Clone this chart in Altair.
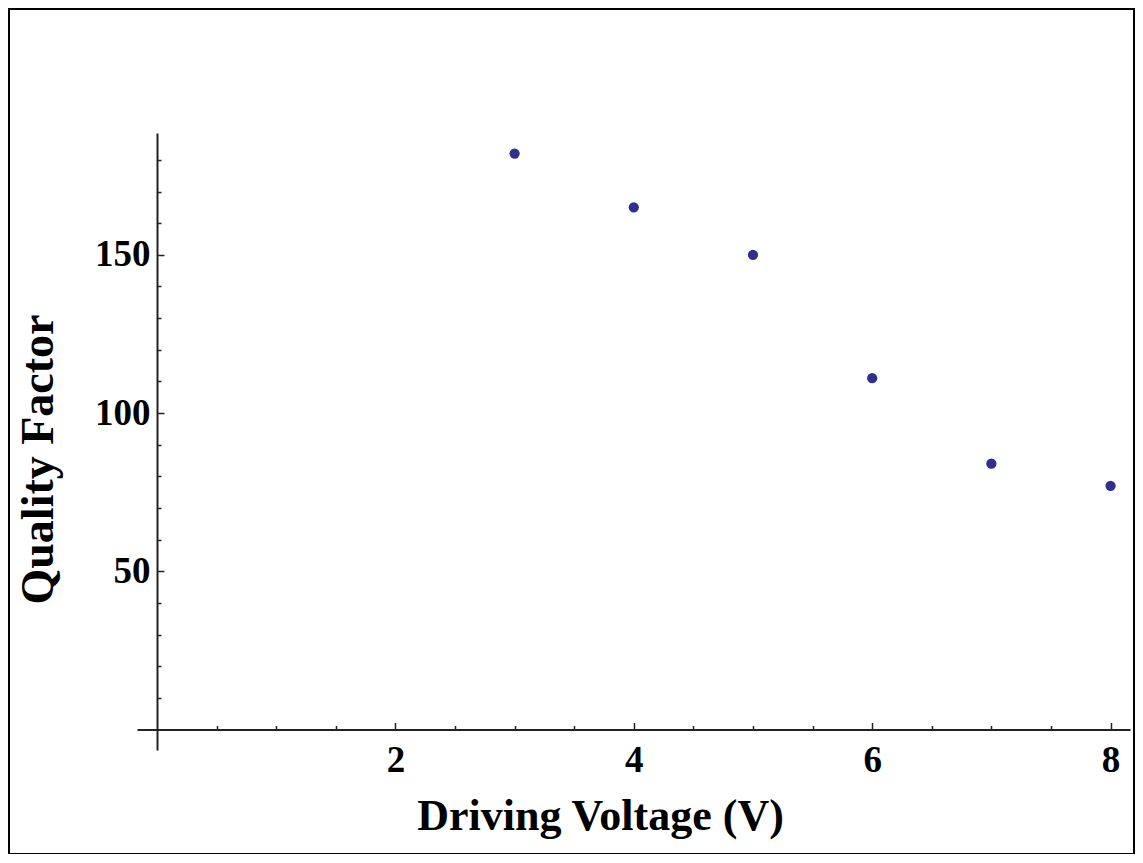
import altair as alt
import pandas as pd

# Data
voltage = [3, 4, 5, 6, 7, 8]
quality = [182, 165, 150, 111, 84, 77]

x_major = [2, 4, 6, 8]
x_minor = [0.5, 1, 1.5, 2.5, 3, 3.5, 4.5, 5, 5.5, 6.5, 7, 7.5]
y_major = [50, 100, 150]
y_minor = [10, 20, 30, 40, 60, 70, 80, 90, 110, 120, 130, 140, 160, 170, 180]

df = pd.DataFrame({"v": voltage, "q": quality})

W, H = 993, 617
X_DOM = [-0.168, 8.163]
Y_DOM = [-6.5, 188.5]
X_AX_OFF = -20.5      # x axis sits at y = 0
Y_AX_OFF = -20        # y axis sits at x = 0
FONT = "Liberation Serif"
AX_COLOR = "#222222"

xs = alt.Scale(domain=X_DOM, nice=False, zero=False)
ys = alt.Scale(domain=Y_DOM, nice=False, zero=False)

points = alt.Chart(df).mark_circle(size=105, color="#30308c", opacity=1).encode(
    x=alt.X("v:Q", scale=xs, axis=alt.Axis(
        orient="bottom", offset=X_AX_OFF, values=x_major, ticks=False, grid=False,
        domain=True, domainColor=AX_COLOR, domainWidth=2,
        labelFont=FONT, labelFontSize=37, labelFontWeight="bold", labelColor="black",
        labelPadding=13, labelFlush=False,
        title="Driving Voltage (V)", titleFont=FONT, titleFontSize=44,
        titleFontWeight="bold", titleColor="black",
        titleX=463, titleY=87, titleAlign="center", titleBaseline="middle")),
    y=alt.Y("q:Q", scale=ys, axis=alt.Axis(
        orient="left", offset=Y_AX_OFF, values=y_major, ticks=False, grid=False,
        domain=True, domainColor=AX_COLOR, domainWidth=2,
        labelFont=FONT, labelFontSize=37, labelFontWeight="bold", labelColor="black",
        labelPadding=7, labelFlush=False,
        title="Quality Factor", titleFont=FONT, titleFontSize=46,
        titleFontWeight="bold", titleColor="black", titleAngle=270,
        titleX=-119, titleY=326, titleAlign="center", titleBaseline="middle")),
)


def tick_layer(xv, yv, xlen, ylen):
    return alt.Chart(df).mark_circle(opacity=0).encode(
        x=alt.X("v:Q", scale=xs, title="", axis=alt.Axis(
            orient="top", offset=-(H + X_AX_OFF), values=xv, ticks=True,
            tickSize=xlen, tickWidth=1.5, tickColor=AX_COLOR,
            labels=False, domain=False, grid=False)),
        y=alt.Y("q:Q", scale=ys, title="", axis=alt.Axis(
            orient="right", offset=-(W + Y_AX_OFF), values=yv, ticks=True,
            tickSize=ylen, tickWidth=1.5, tickColor=AX_COLOR,
            labels=False, domain=False, grid=False)),
    )


major = tick_layer(x_major, y_major, 7, 7)
minor = tick_layer(x_minor, y_minor, 4, 4)

frame = alt.Chart(alt.Data(values=[{"a": 1}])).mark_rect(
    fill="white", fillOpacity=0, stroke="black", strokeWidth=2
).encode(
    x=alt.value(-128), x2=alt.value(997), y=alt.value(-124), y2=alt.value(721)
)

chart = alt.layer(frame, points, major, minor).resolve_axis(
    x="independent", y="independent"
).properties(
    width=W, height=H,
    autosize=alt.AutoSizeParams(type="none"),
    padding={"left": 129, "top": 125, "right": 5, "bottom": 104},
    background="white",
).configure_view(stroke=None)

chart.save("out.html", embed_options={"renderer": "svg", "actions": False})
